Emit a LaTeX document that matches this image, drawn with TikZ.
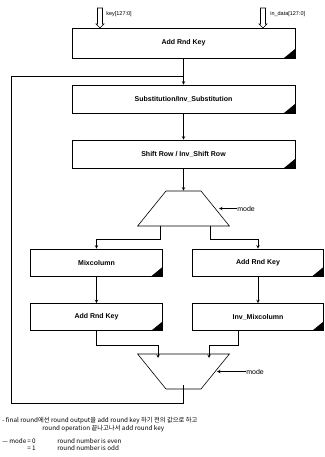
\documentclass[tikz,border=0pt]{standalone}
\usepackage{fontspec}
\setmainfont{Liberation Sans}
\newfontfamily\kor{Noto Sans CJK KR}
\usetikzlibrary{shapes.geometric,calc}

\tikzset{
  blk/.style={
    draw,
    rectangle,
    inner sep=0pt,
    font=\bfseries\fontsize{7}{8}\selectfont,
    path picture={
      \fill[black] (path picture bounding box.south east)
        -- ++(-11pt,0pt) -- ++(11pt,9pt) -- cycle;
    }
  },
  mux/.style={
    draw,
    trapezium,
    trapezium left angle=51,
    trapezium right angle=51,
    minimum width=92pt,
    minimum height=27pt,
    inner sep=1pt
  },
  lbl/.style={inner sep=0pt, anchor=west, font=\fontsize{5.5}{6}\selectfont},
  sel/.style={inner sep=0pt, anchor=west, font=\fontsize{7}{8}\selectfont},
  note/.style={inner sep=0pt, anchor=west, font=\kor\fontsize{6.3}{7}\selectfont}
}

\begin{document}
\begin{tikzpicture}[
  x=1pt,
  y=-1pt,
  line width=.6pt,
  >=stealth
]
\useasboundingbox (0,0) rectangle (324,457);

% main chain
\node[blk, minimum width=223pt, minimum height=30pt] (ark1) at (183.5,43) {Add Rnd Key};
\node[blk, minimum width=223pt, minimum height=28pt] (sub) at (183.5,99) {Substitution/Inv\_Substitution};
\node[blk, minimum width=223pt, minimum height=28pt] (shf) at (183.5,154) {Shift Row / Inv\_Shift Row};
\node[mux] (mux1) at (183.5,208.5) {};

% two branches
\node[blk, minimum width=132pt, minimum height=27pt] (mix) at (96.5,262.5) {Mixcolumn};
\node[blk, minimum width=131pt, minimum height=27pt] (ark2) at (258,262.5) {Add Rnd Key};
\node[blk, minimum width=132pt, minimum height=27pt] (ark3) at (96.5,317) {Add Rnd Key};
\node[blk, minimum width=131pt, minimum height=27pt] (imix) at (258,317) {Inv\_Mixcolumn};
\node[mux, shape border rotate=180] (mux2) at (183.5,371.5) {};

% inputs
\coordinate (kin) at (100,8);
\coordinate (din) at (263,8);
\foreach \c in {kin,din}
{
  \draw[fill=white]
  (\c)
  ++(-2.5,0)
  -- ++(0,16)
  -- ++(-1.5,0)
  -- ++(4,4)
  -- ++(4,-4)
  -- ++(-1.5,0)
  -- ++(0,-16)
  -- cycle;
}
\node[lbl] (kname) at (106,14) {key[127:0]};
\node[lbl] (dname) at (270,14) {in\_data[127:0]};

% connectors
\coordinate (merge) at ($(ark1.south)!.67!(sub.north)$);
\coordinate (fb) at (11,403);
\draw[->] (ark1.south) -- (sub.north);
\draw ([yshift=-13.5pt]mux2.center) |- (fb) |- (merge);
\draw[->] (sub.south) -- (shf.north);
\draw[->] (shf.south) -- (mux1.north);
\draw[->] ([xshift=-23.5pt]mux1.south) -- ++(0,13) -| (mix.north);
\draw[->] ([xshift=26.5pt]mux1.south) -- ++(0,13) -| (ark2.north);
\draw[->] (mix.south) -- (ark3.north);
\draw[->] (ark2.south) -- (imix.north);
\draw[->] (ark3.south) -- ++(0,14) -| ([xshift=-25.5pt,yshift=13.5pt]mux2.center);
\draw[->] ([xshift=-20pt]imix.south) -- ++(0,14) -| ([xshift=25.5pt,yshift=13.5pt]mux2.center);

% select lines
\node[sel] (sel1) at (237,208.5) {mode};
\node[sel] (sel2) at (246,371.5) {mode};
\draw[->] (sel1.west) -- ([xshift=35.5pt]mux1.center);
\draw[->] (sel2.west) -- ([xshift=33.5pt]mux2.center);

% notes
\node[note] (n1) at (2,421) {- final round에선 round output을 add round key 하기 전의 값으로 하고};
\node[note] (n2) at (42,429) {round operation 끝나고나서 add round key};
\node[note] (n3) at (2,441) {— mode};
\node[note] (n4) at (27,441) {= 0};
\node[note] (n5) at (27,448) {= 1};
\node[note] (n6) at (57,441) {round number is even};
\node[note] (n7) at (57,448) {round number is odd};
\end{tikzpicture}
\end{document}
